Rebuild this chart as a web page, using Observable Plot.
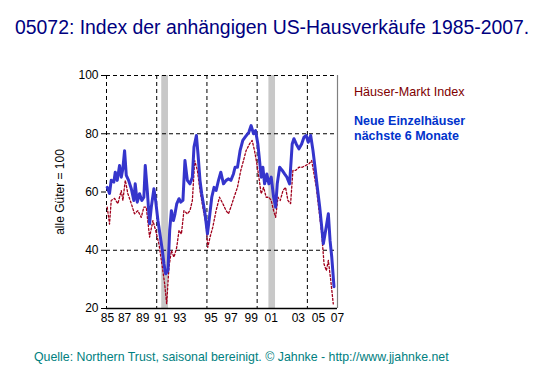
<!DOCTYPE html>
<html><head><meta charset="utf-8">
<script src="https://cdn.jsdelivr.net/npm/d3@7"></script>
<script src="https://cdn.jsdelivr.net/npm/@observablehq/plot@0.6"></script>
<style>
body{margin:0;background:#fff;font-family:"Liberation Sans",Arial,sans-serif;}
#wrap{position:relative;width:553px;height:376px;overflow:hidden;}
#chart{position:absolute;left:0;top:0;}
#title{position:absolute;left:15px;top:16px;font-size:19.4px;color:#000080;white-space:nowrap;}
#leg1{position:absolute;left:354px;top:85px;font-size:12.6px;color:#800000;white-space:nowrap;}
#leg2{position:absolute;left:354px;top:114px;font-size:12.5px;font-weight:bold;color:#0033cc;line-height:15px;white-space:nowrap;}
#caption{position:absolute;left:34px;top:350px;font-size:12.35px;color:#008080;white-space:nowrap;}
</style></head>
<body>
<div id="wrap">
<div id="chart"></div>
<div id="title">05072: Index der anhängigen US-Hausverkäufe 1985-2007.</div>
<div id="leg1">Häuser-Markt Index</div>
<div id="leg2">Neue Einzelhäuser<br>nächste 6 Monate</div>
<div id="caption">Quelle: Northern Trust, saisonal bereinigt. © Jahnke - http://www.jjahnke.net</div>
</div>
<script>
const blueYears = [1985.07,1985.30,1985.47,1985.73,1985.87,1986.07,1986.30,1986.47,1986.63,1986.80,1986.97,1987.20,1987.47,1987.72,1987.86,1988.06,1988.29,1988.52,1988.72,1988.86,1989.06,1989.29,1989.46,1989.72,1989.89,1990.12,1990.32,1990.56,1990.72,1990.89,1991.12,1991.29,1991.46,1991.66,1991.82,1991.99,1992.22,1992.39,1992.61,1992.81,1993.05,1993.31,1993.55,1993.71,1993.95,1994.11,1994.31,1994.48,1994.65,1994.81,1995.05,1995.25,1995.48,1995.71,1995.91,1996.15,1996.38,1996.65,1996.91,1997.15,1997.38,1997.64,1997.80,1998.04,1998.30,1998.57,1998.80,1999.17,1999.40,1999.64,1999.84,2000.07,2000.24,2000.40,2000.57,2000.74,2000.97,2001.17,2001.40,2001.64,2001.84,2002.00,2002.24,2002.50,2002.73,2002.96,2003.23,2003.49,2003.66,2003.89,2004.16,2004.43,2004.66,2004.89,2005.09,2005.33,2005.56,2005.76,2005.99,2006.23,2006.43,2006.59,2006.76,2006.93,2007.09,2007.26,2007.43,2007.65];
const blueValues = [61.6,59.5,64,63.4,66.8,64,69.1,65.1,68,74.2,65.7,64,61.1,57.1,62.8,56.5,59.4,57.1,58.2,69.1,60.5,49.1,54.8,61.1,57.1,50.2,45.6,39.9,35.3,31.9,33,46.8,53.6,50.2,52.5,55.9,57.7,56.5,57.1,70.8,64,62.8,65.1,75.4,79.4,73.1,64,59.4,55.9,52.5,45.6,51.3,58.2,61.6,60.5,64,66.8,62.8,64,64.5,64,66.2,68.5,68.5,74.2,77.7,78.8,80.5,82.8,80,81.1,76.5,70.8,65.1,68.5,62.8,66.2,62.8,65.1,58.2,54.8,62.8,68.5,67.4,66.2,65.1,62.8,76.5,78.3,76.5,74.8,76.5,78.8,79.4,77.1,79.4,74.2,68.5,61.6,54.8,47.9,42.2,45.6,49.1,52.5,43.3,37.6,27.5];
const redYears = [1985.07,1985.30,1985.47,1985.80,1986.13,1986.47,1986.63,1986.87,1987.13,1987.47,1987.79,1988.12,1988.46,1988.72,1988.96,1989.29,1989.62,1989.89,1990.22,1990.56,1990.79,1990.99,1991.22,1991.46,1991.72,1991.99,1992.22,1992.46,1992.71,1993.05,1993.31,1993.55,1993.78,1994.05,1994.31,1994.65,1994.91,1995.08,1995.31,1995.58,1995.91,1996.25,1996.58,1996.91,1997.15,1997.38,1997.70,1998.04,1998.37,1998.64,1998.90,1999.24,1999.50,1999.74,1999.97,2000.17,2000.40,2000.64,2000.90,2001.17,2001.40,2001.64,2001.84,2002.07,2002.30,2002.57,2002.83,2003.06,2003.33,2003.56,2003.83,2004.16,2004.49,2004.83,2005.16,2005.43,2005.66,2005.89,2006.16,2006.43,2006.66,2006.89,2007.09,2007.33,2007.58];
const redValues = [54.8,49,57.1,57.8,56,60.5,57.1,64,59.4,56,52.5,53.6,51.3,54.8,54.8,44.5,50.2,46.8,42.2,34.2,28.5,21.6,34.2,39.9,37.6,41,46.8,45.6,53.6,52.5,53.6,57.1,70.8,67.4,60.5,53.6,49.1,41,44.5,47.9,53.6,58.2,56,53.6,52.5,54.8,58.2,61.6,67.4,70.8,74.2,76.5,77.7,74.2,69.7,65.1,59.4,61.6,58.2,58.2,57.1,53.6,51.3,58.2,57.1,60.5,61.6,57.1,56,67.4,67.4,68.5,68.5,69.1,69.7,70.8,66.2,61.6,53.6,45.6,35.3,33,36.5,29.6,21.6];
const recessionStarts = [1990.5, 2001.17];
const recessionEnds = [1991.17, 2001.83];
const yTicks = [20, 40, 60, 80, 100];
const xTickPositions = [1985.1, 1986.8, 1988.6, 1990.4, 1992.3, 1995.4, 1997.4, 1999.4, 2001.4, 2004.1, 2006.1, 2008.0];
const xTickLabels = ["85","87","89","91","93","95","97","99","01","03","05","07"];
const gridYValues = [40, 80, 100];
const gridXValues = [1985, 1990, 1995, 2000, 2005];

const blue = blueYears.map((x, i) => ({x, y: blueValues[i]}));
const red = redYears.map((x, i) => ({x, y: redValues[i]}));
const recessions = recessionStarts.map((s, i) => ({x1: s, x2: recessionEnds[i]}));
const labelMap = new Map(xTickPositions.map((p, i) => [p, xTickLabels[i]]));

const chart = Plot.plot({
  width: 553, height: 376,
  marginLeft: 106, marginRight: 216, marginTop: 75, marginBottom: 68,
  x: {domain: [1985, 2008]},
  y: {domain: [20, 100]},
  style: {fontFamily: "'Liberation Sans', Arial, sans-serif", fontSize: "12px", color: "#000", background: "transparent"},
  marks: [
    Plot.rect(recessions, {x1: "x1", x2: "x2", fill: "#c8c8c8"}),
    Plot.ruleY(gridYValues, {stroke: "#000", strokeDasharray: "4,3", strokeWidth: 1}),
    Plot.ruleX(gridXValues, {stroke: "#000", strokeDasharray: "4,3", strokeWidth: 1}),
    Plot.line(red, {x: "x", y: "y", stroke: "#a0001c", strokeWidth: 1.3, strokeDasharray: "2,2"}),
    Plot.line(blue, {x: "x", y: "y", stroke: "#3535cc", strokeWidth: 3, strokeLinejoin: "round"}),
    Plot.ruleY([20], {stroke: "#000", strokeWidth: 1.6}),
    Plot.ruleX([2008], {stroke: "#808080", strokeWidth: 1.2}),
    Plot.axisY(yTicks, {tickSize: 5, tickPadding: 3, label: "alle Güter = 100", labelAnchor: "center", labelOffset: 51, labelArrow: "none"}),
    Plot.axisX(xTickPositions, {tickSize: 0, tickPadding: 5, tickFormat: d => labelMap.get(d), label: null})
  ]
});
document.getElementById("chart").appendChild(chart);
</script>
</body></html>
